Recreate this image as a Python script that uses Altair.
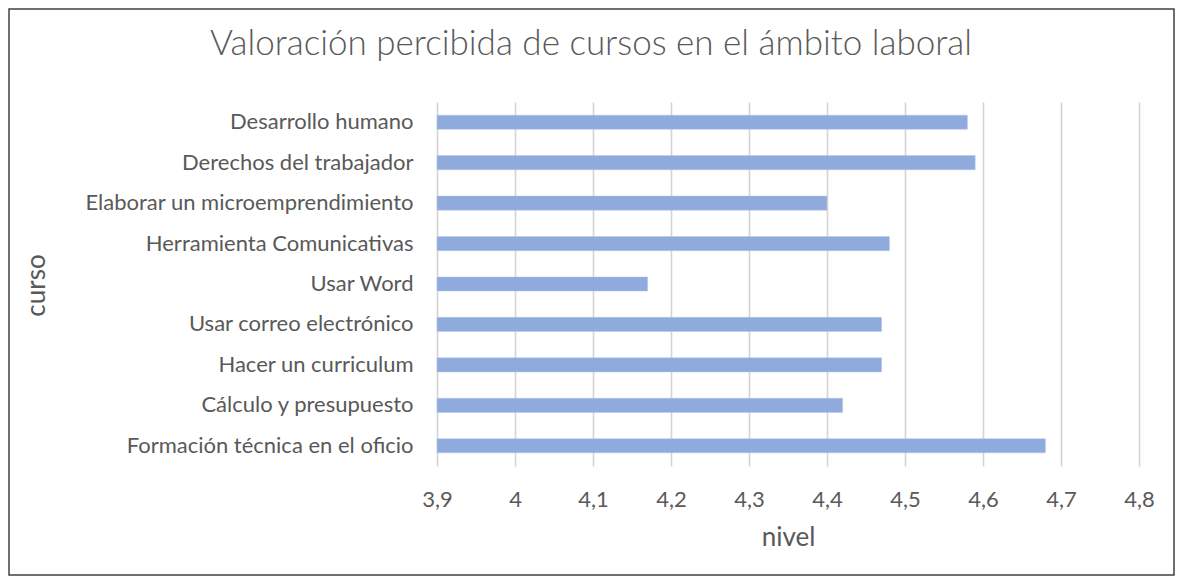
import altair as alt
import pandas as pd

cursos = [
    "Desarrollo humano",
    "Derechos del trabajador",
    "Elaborar un microemprendimiento",
    "Herramienta Comunicativas",
    "Usar Word",
    "Usar correo electrónico",
    "Hacer un curriculum",
    "Cálculo y presupuesto",
    "Formación técnica en el oficio",
]
niveles = [4.58, 4.59, 4.40, 4.48, 4.17, 4.47, 4.47, 4.42, 4.68]
x_ticks = [3.9, 4.0, 4.1, 4.2, 4.3, 4.4, 4.5, 4.6, 4.7, 4.8]
x_min, x_max = 3.9, 4.8

df = pd.DataFrame({"curso": cursos, "nivel": niveles})

FONT = "Lato"
GREY = "#595959"
PW, PH = 702, 364
PAD = {"left": 429, "top": 94, "right": 36, "bottom": 110}

bars = alt.Chart(df).mark_bar(color="#8FAADC", stroke="#B4C7E7", strokeWidth=0.5).encode(
    y=alt.Y(
        "curso:N",
        sort=cursos,
        scale=alt.Scale(paddingInner=0.65, paddingOuter=0.325),
        axis=alt.Axis(
            title="curso",
            domain=False,
            ticks=False,
            tickSize=0,
            labelPadding=24,
            labelFontSize=22,
            labelFont=FONT,
            labelColor=GREY,
            labelLimit=400,
            titleFont=FONT,
            titleFontSize=26,
            titleFontWeight="normal",
            titleColor=GREY,
            titleAngle=-90,
            titleBaseline="alphabetic",
            titleX=-393,
            titleY=183,
            titleAlign="center",
        ),
    ),
    x=alt.X(
        "nivel:Q",
        scale=alt.Scale(domain=[x_min, x_max], zero=False, nice=False),
        axis=alt.Axis(
            title="nivel",
            values=x_ticks,
            labelExpr="replace(format(datum.value, '.1~f'), '.', ',')",
            labelFlush=False,
            domain=False,
            ticks=False,
            tickSize=0,
            grid=True,
            gridColor="#D4D4D4",
            gridWidth=1.6,
            labelPadding=40,
            labelBaseline="alphabetic",
            labelFontSize=22,
            labelFont=FONT,
            labelColor=GREY,
            titleFont=FONT,
            titleFontSize=26,
            titleFontWeight="normal",
            titleColor=GREY,
            titleBaseline="alphabetic",
            titleY=79,
        ),
    ),
    x2=alt.X2(datum=x_min),
)

border = alt.Chart(pd.DataFrame({"k": [0]})).mark_rect(
    fillOpacity=0, stroke="#404040", strokeWidth=1.5
).encode(
    x=alt.value(-PAD["left"] + 1),
    x2=alt.value(PW + PAD["right"] - 1),
    y=alt.value(-PAD["top"] + 1),
    y2=alt.value(PH + PAD["bottom"] - 1),
)

chart = (
    alt.layer(bars, border)
    .properties(
        width=PW,
        height=PH,
        autosize=alt.AutoSizeParams(type="none"),
        padding=PAD,
        title=alt.TitleParams(
            "Valoración percibida de cursos en el ámbito laboral",
            font=FONT,
            fontSize=35,
            fontWeight=300,
            color=GREY,
            anchor="middle",
            frame="group",
            baseline="alphabetic",
            dx=-197,
            dy=86,
        ),
    )
    .configure(background="white", view=alt.ViewConfig(stroke="transparent", strokeWidth=0))
)

chart.save("out.html", embed_options={"renderer": "svg", "actions": False})
